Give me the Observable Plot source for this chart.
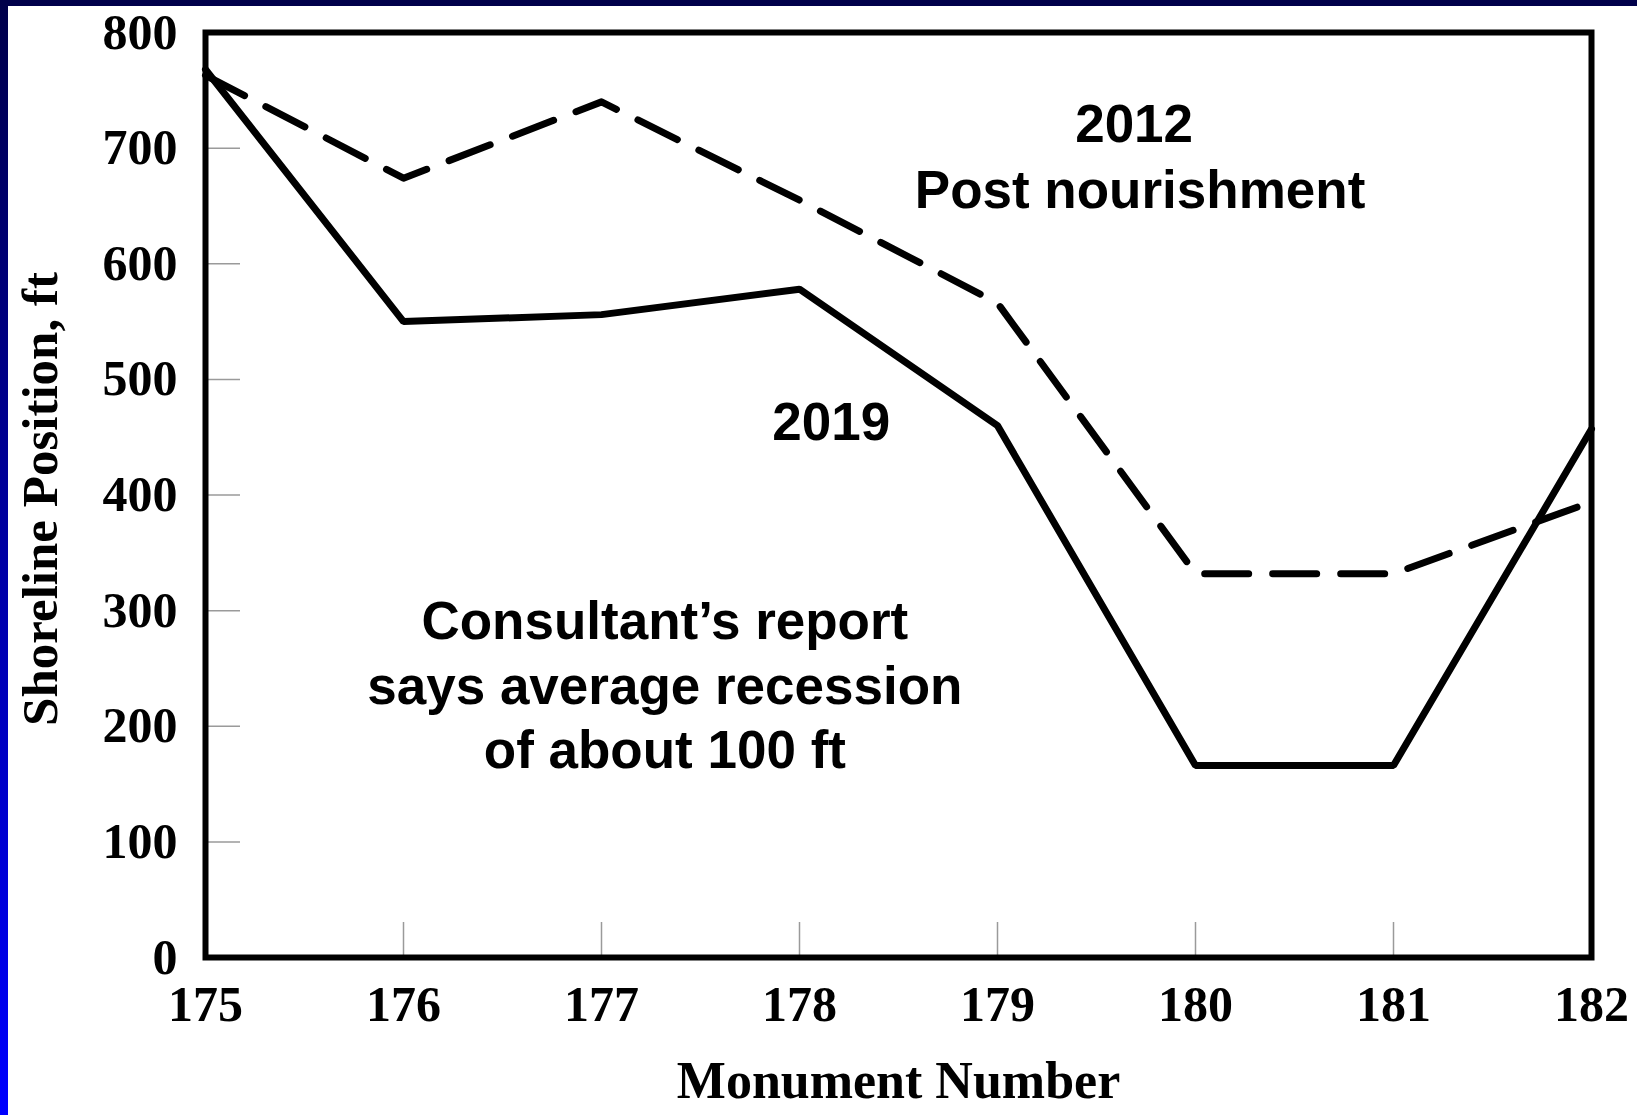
<!DOCTYPE html>
<html>
<head>
<meta charset="utf-8">
<script src="https://cdn.jsdelivr.net/npm/d3@7"></script>
<script src="https://cdn.jsdelivr.net/npm/@observablehq/plot@0.6"></script>
<style>
  html, body { margin: 0; padding: 0; }
  body {
    width: 1637px; height: 1115px; overflow: hidden; position: relative;
    background: linear-gradient(to bottom, #00004a, #0000ff);
  }
  #panel { position: absolute; left: 8px; top: 6px; right: 0; bottom: 0; background: #ffffff; }
  #chart { position: absolute; left: 0; top: 0; }
</style>
</head>
<body>
<div id="panel"></div>
<div id="chart"></div>
<script>
// ---- data ----
const monuments = [175, 176, 177, 178, 179, 180, 181, 182];
const position2012 = [763, 674, 740, 655, 566, 332, 332, 394];   // dashed: 2012 post nourishment
const position2019 = [768, 550, 556, 578, 460, 166, 166, 457];   // solid: 2019
const yTicks = [0, 100, 200, 300, 400, 500, 600, 700, 800];
const xTicks = [175, 176, 177, 178, 179, 180, 181, 182];
const xTitle = "Monument Number";
const yTitle = "Shoreline Position, ft";
const annoText = ["2012", "Post nourishment", "2019", "Consultant’s report", "says average recession", "of about 100 ft"];
const annoX = [179.69, 179.72, 178.16, 177.32, 177.32, 177.32];
const annoY = [720, 663, 462, 290, 234, 179];

const data2012 = monuments.map((m, i) => ({monument: m, position: position2012[i]}));
const data2019 = monuments.map((m, i) => ({monument: m, position: position2019[i]}));

const serif = "'Liberation Serif', 'Times New Roman', serif";
const sans = "'Liberation Sans', Arial, sans-serif";

const chart = Plot.plot({
  width: 1637,
  height: 1115,
  marginLeft: 205,
  marginRight: 46,
  marginTop: 32,
  marginBottom: 158,
  style: {background: "transparent", fontFamily: serif, color: "black", overflow: "visible"},
  x: {domain: [175, 182], label: null},
  y: {domain: [0, 800], label: null},
  marks: [
    Plot.axisY({ticks: yTicks, tickSize: -35, stroke: "#9a9a9a", strokeWidth: 1.5, tickFormat: () => "", label: null}),
    Plot.axisX({ticks: xTicks, tickSize: -35, stroke: "#9a9a9a", strokeWidth: 1.5, tickFormat: () => "", label: null}),
    Plot.axisY({ticks: yTicks, tickSize: 0, tickPadding: 28, fontSize: 50, fontWeight: "bold", fill: "black", label: null}),
    Plot.axisX({ticks: xTicks, tickSize: 0, tickPadding: 28, fontSize: 50, fontWeight: "bold", fill: "black", tickFormat: d => String(d), label: null}),
    Plot.line(data2012, {x: "monument", y: "position", stroke: "black", strokeWidth: 7,
      strokeDasharray: "44,24", strokeLinecap: "round", strokeLinejoin: "round"}),
    Plot.line(data2019, {x: "monument", y: "position", stroke: "black", strokeWidth: 7,
      strokeLinejoin: "miter"}),
    Plot.frame({stroke: "black", strokeWidth: 6}),
    Plot.text(annoText, {x: annoX, y: annoY, text: d => d, fontFamily: sans, fontWeight: "bold",
      fontSize: 53, fill: "black", textAnchor: "middle", lineAnchor: "middle"}),
    Plot.text([yTitle], {frameAnchor: "left", dx: -165, dy: 4, rotate: -90, text: d => d, fontFamily: serif,
      fontWeight: "bold", fontSize: 51, fill: "black", textAnchor: "middle", lineAnchor: "middle"}),
    Plot.text([xTitle], {frameAnchor: "bottom", dy: 124, text: d => d, fontFamily: serif,
      fontWeight: "bold", fontSize: 52, fill: "black", textAnchor: "middle", lineAnchor: "middle"})
  ]
});
document.getElementById("chart").appendChild(chart);
</script>
</body>
</html>
